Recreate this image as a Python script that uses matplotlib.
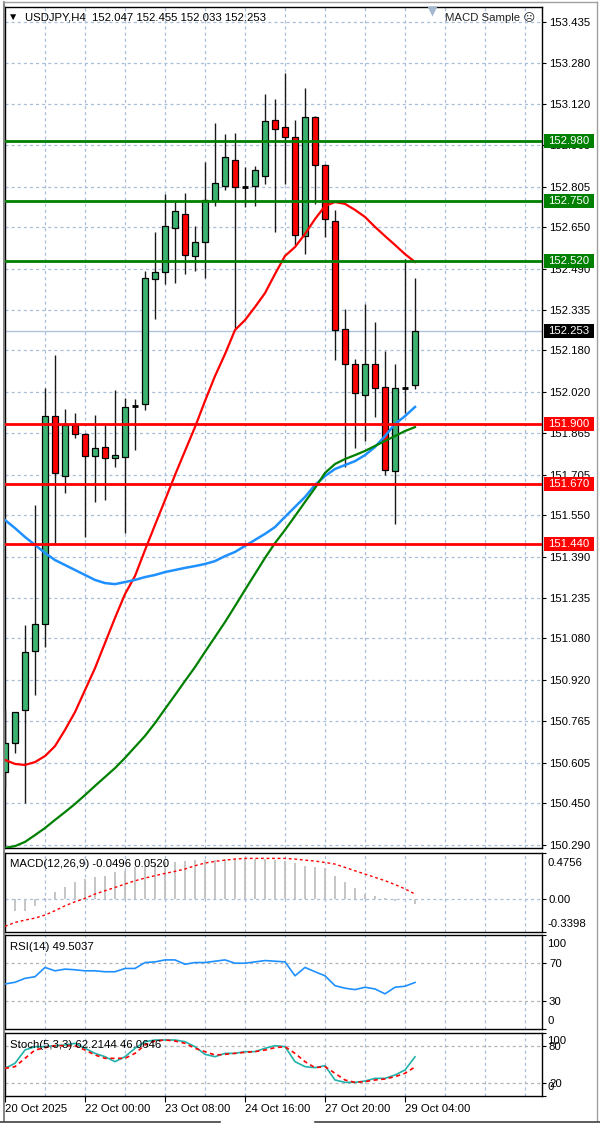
import matplotlib
matplotlib.use("Agg")
import matplotlib.pyplot as plt
import matplotlib.transforms as mtransforms
from matplotlib.patches import Rectangle
from matplotlib.lines import Line2D
import numpy as np

plt.rcParams['font.family'] = ['Liberation Sans', 'DejaVu Sans']
plt.rcParams['lines.scale_dashes'] = False

# ---------------- data ----------------
symbol = "USDJPY,H4"
opens = [150.569, 150.680, 150.806, 151.032, 151.135, 151.930, 151.700, 151.895, 151.861, 151.777,
         151.811, 151.769, 151.773, 151.966, 151.975, 152.453, 152.480, 152.648, 152.701, 152.541,
         152.594, 152.751, 152.808, 152.908, 152.804, 152.808, 152.847, 153.061, 153.034, 152.996,
         152.617, 153.072, 152.889, 152.675, 152.262, 152.128, 152.010, 152.128, 152.040, 151.719,
         152.038, 152.047]
highs = [150.806, 150.800, 151.131, 151.589, 152.036, 152.163, 151.956, 151.941, 151.865, 151.933,
         151.895, 152.029, 151.998, 151.994, 152.484, 152.633, 152.778, 152.747, 152.782, 152.655,
         152.900, 153.049, 153.007, 153.011, 152.881, 152.885, 153.160, 153.141, 153.240, 153.061,
         153.183, 153.075, 152.893, 152.717, 152.338, 152.147, 152.357, 152.289, 152.178, 152.128,
         152.529, 152.455]
lows = [150.508, 150.642, 150.451, 150.863, 151.047, 151.444, 151.635, 151.845, 151.467, 151.601,
        151.609, 151.735, 151.482, 151.800, 151.952, 152.300, 152.434, 152.438, 152.472, 152.484,
        152.457, 152.732, 152.793, 152.266, 152.728, 152.732, 152.816, 152.633, 152.816, 152.583,
        152.549, 152.740, 152.613, 152.143, 151.735, 151.807, 151.834, 151.926, 151.704, 151.517,
        151.941, 152.033]
closes = [150.680, 150.799, 151.028, 151.135, 151.930, 151.712, 151.895, 151.861, 151.777, 151.807,
          151.769, 151.780, 151.964, 151.968, 152.457, 152.480, 152.655, 152.713, 152.545, 152.594,
          152.755, 152.820, 152.919, 152.804, 152.805, 152.869, 153.057, 153.026, 152.996, 152.621,
          153.072, 152.889, 152.682, 152.258, 152.128, 152.017, 152.128, 152.036, 151.723, 152.036,
          152.036, 152.253]

ma_red = [150.615, 150.600, 150.596, 150.607, 150.630, 150.668, 150.730, 150.798, 150.882, 150.966,
          151.062, 151.158, 151.249, 151.318, 151.417, 151.513, 151.608, 151.704, 151.796, 151.887,
          151.987, 152.082, 152.166, 152.258, 152.296, 152.346, 152.399, 152.472, 152.541, 152.575,
          152.625, 152.682, 152.732, 152.747, 152.740, 152.717, 152.690, 152.652, 152.617, 152.583,
          152.548, 152.518]
ma_blue = [151.532, 151.501, 151.467, 151.437, 151.406, 151.379, 151.360, 151.341, 151.322, 151.303,
           151.291, 151.287, 151.295, 151.303, 151.314, 151.322, 151.333, 151.341, 151.349, 151.356,
           151.364, 151.375, 151.394, 151.410, 151.433, 151.456, 151.479, 151.505, 151.544, 151.582,
           151.620, 151.666, 151.700, 151.727, 151.742, 151.757, 151.780, 151.811, 151.853, 151.899,
           151.929, 151.964]
ma_green = [150.279, 150.286, 150.302, 150.328, 150.355, 150.386, 150.416, 150.447, 150.481, 150.516,
            150.550, 150.584, 150.623, 150.665, 150.707, 150.756, 150.810, 150.863, 150.917, 150.970,
            151.028, 151.085, 151.142, 151.203, 151.265, 151.326, 151.387, 151.444, 151.494, 151.547,
            151.601, 151.654, 151.712, 151.746, 151.765, 151.780, 151.796, 151.815, 151.834, 151.853,
            151.872, 151.887]

resistance_levels = [152.980, 152.750, 152.520]
support_levels = [151.900, 151.670, 151.440]
last_price = 152.253

price_ticks = [153.435, 153.280, 153.120, 152.965, 152.805, 152.650, 152.490, 152.335, 152.180,
               152.020, 151.865, 151.705, 151.550, 151.390, 151.235, 151.080, 150.920, 150.765,
               150.605, 150.450, 150.290]

macd_hist = [-0.18, -0.12, -0.12, -0.07, 0.01, 0.069, 0.12, 0.18, 0.206, 0.224,
             0.234, 0.275, 0.292, 0.327, 0.344, 0.361, 0.378, 0.385, 0.396, 0.402,
             0.406, 0.406, 0.413, 0.413, 0.413, 0.413, 0.413, 0.406, 0.396, 0.372,
             0.344, 0.327, 0.316, 0.234, 0.172, 0.110, 0.052, 0.028, 0.007, -0.017,
             0.0, -0.0496]
macd_signal = [-0.282, -0.241, -0.217, -0.196, -0.165, -0.120, -0.069, -0.028, 0.007, 0.052,
               0.086, 0.120, 0.155, 0.189, 0.217, 0.241, 0.265, 0.286, 0.310, 0.344,
               0.372, 0.389, 0.402, 0.413, 0.420, 0.420, 0.420, 0.420, 0.420, 0.413,
               0.402, 0.392, 0.378, 0.361, 0.327, 0.292, 0.258, 0.224, 0.190, 0.150,
               0.105, 0.052]
macd_range = (-0.3398, 0.4756)

rsi = [47.9, 49.7, 53.9, 55.6, 65.5, 61.9, 63.7, 63.0, 61.9, 61.9,
       60.9, 60.9, 64.4, 64.4, 70.7, 71.4, 73.5, 73.5, 68.9, 70.7,
       70.7, 72.1, 73.5, 70.0, 70.0, 71.4, 72.8, 72.1, 71.4, 56.6,
       65.5, 60.9, 56.6, 46.1, 43.4, 41.9, 44.4, 42.6, 37.4, 44.4,
       45.5, 49.5]
stoch_k = [43.9, 51.9, 73.0, 78.3, 78.3, 79.9, 81.0, 83.6, 75.7, 67.7,
           62.4, 54.5, 62.4, 75.7, 86.2, 88.9, 88.9, 88.9, 86.2, 78.3,
           66.1, 62.4, 67.7, 67.7, 70.4, 70.4, 75.7, 79.9, 78.3, 54.5,
           46.6, 45.0, 48.1, 25.4, 21.7, 21.7, 23.8, 28.0, 28.0, 33.3,
           41.3, 62.2]
stoch_d = [43.9, 46.6, 59.8, 73.0, 76.7, 79.9, 79.9, 79.9, 73.0, 65.1,
           59.8, 59.8, 59.8, 67.7, 81.0, 87.3, 88.9, 87.3, 83.6, 75.7,
           70.4, 65.1, 66.1, 67.7, 69.3, 70.4, 73.0, 76.7, 78.3, 67.7,
           54.5, 45.0, 46.6, 36.0, 25.4, 21.7, 22.8, 25.4, 27.0, 30.7,
           36.0, 46.1]

date_labels = ["20 Oct 2025", "22 Oct 00:00", "23 Oct 08:00", "24 Oct 16:00", "27 Oct 20:00", "29 Oct 04:00"]
date_every = 8

header = "USDJPY,H4  152.047 152.455 152.033 152.253"
macd_title = "MACD(12,26,9) -0.0496 0.0520"
rsi_title = "RSI(14) 49.5037"
stoch_title = "Stoch(5,3,3) 62.2144 46.0646"

# ---------------- layout ----------------
W, H = 600, 1125
FS = 8.2
GRID = '#a9bfd9'
DASH = (0, (2.2, 2.2))
fig = plt.figure(figsize=(W / 100, H / 100), dpi=100)
fig.patch.set_facecolor('white')


def add_ax(t, b, l=5, r=542):
    return fig.add_axes([l / W, 1 - b / H, (r - l) / W, (b - t) / H])


ax = add_ax(7, 848)
ax_macd = add_ax(853, 932)
ax_rsi = add_ax(935, 1029)
ax_st = add_ax(1033, 1096)
axes = [ax, ax_macd, ax_rsi, ax_st]

n = len(closes)
x = np.arange(n)
XMAX = 53.7

for a in axes:
    a.set_xlim(0, XMAX)
    a.set_facecolor('white')
    for s in a.spines.values():
        s.set_color('black')
        s.set_linewidth(1)
    for gx in range(4, 54, 4):
        a.axvline(gx, color=GRID, lw=0.9, ls=DASH, zorder=0)
    a.tick_params(axis='x', bottom=False, labelbottom=False)
    a.yaxis.tick_right()
    a.tick_params(axis='y', direction='out', length=3, width=0.8, labelsize=FS, pad=2, colors='black')

# ---------------- main chart ----------------
ymin, ymax = 150.2787, 153.4923
ax.set_ylim(ymin, ymax)
ax.set_yticks(price_ticks)
ax.set_yticklabels([f"{p:.3f}" for p in price_ticks])
for p in price_ticks:
    ax.axhline(p, color=GRID, lw=0.9, ls=DASH, zorder=0)

ax.axhline(last_price, color='#b0c4de', lw=1, zorder=1)

for i in range(n):
    o, h, l, c = opens[i], highs[i], lows[i], closes[i]
    ax.vlines(i, l, h, color='#1a1a1a', lw=1, zorder=3)
    if abs(c - o) < 0.004:
        ax.hlines((o + c) / 2, i - 0.32, i + 0.32, color='black', lw=2, zorder=4)
    else:
        col = '#3cb371' if c > o else '#ff0000'
        ax.bar(i, abs(c - o), bottom=min(o, c), width=0.6, color=col,
               edgecolor='black', lw=0.9, zorder=4)

ax.plot(x, ma_red, color='#ff0000', lw=1.6, zorder=5)
ax.plot(x, ma_blue, color='#1e90ff', lw=1.8, zorder=5)
ax.plot(x, ma_green, color='#008000', lw=1.6, zorder=5)

for lv in resistance_levels:
    ax.axhline(lv, color='#008000', lw=2, zorder=6)
for lv in support_levels:
    ax.axhline(lv, color='#ff0000', lw=2, zorder=6)

trans = mtransforms.blended_transform_factory(ax.transAxes, ax.transData)
ax_w_px = 537.0
ax_h_px = 841.0


def price_box(val, fc):
    dh = 14 * (ymax - ymin) / ax_h_px
    x0 = 1 + 1.5 / ax_w_px
    wf = 50 / ax_w_px
    ax.add_patch(Rectangle((x0, val - dh / 2), wf, dh, transform=trans, fc=fc, ec='none',
                           clip_on=False, zorder=10))
    ax.text(x0 + wf / 2, val, f"{val:.3f}", transform=trans, ha='center', va='center',
            color='white', fontsize=FS, zorder=11, clip_on=False)


for lv in resistance_levels:
    price_box(lv, '#008000')
for lv in support_levels:
    price_box(lv, '#ff0000')
price_box(last_price, '#000000')

# header texts
fig.text(13 / W, 1 - 17 / H, '▼', fontsize=7.5, ha='center', va='center', color='black')
fig.text(25 / W, 1 - 17 / H, header, fontsize=FS, ha='left', va='center', color='black')
fig.text(535 / W, 1 - 18 / H, 'MACD Sample ☹', fontsize=FS, ha='right', va='center', color='#222222')
ax.plot([(431.5 - 5) / ax_w_px], [1 - 3.5 / ax_h_px], marker='v', ms=7, color='#a3b8d0',
        transform=ax.transAxes, clip_on=False, zorder=12, mec='none')


def edge_label(a, text, top, off):
    if top:
        a.annotate(text, xy=(1, 1), xycoords='axes fraction', xytext=(5, -off),
                   textcoords='offset pixels', ha='left', va='center', fontsize=FS)
    else:
        a.annotate(text, xy=(1, 0), xycoords='axes fraction', xytext=(5, off),
                   textcoords='offset pixels', ha='left', va='center', fontsize=FS)


# ---------------- MACD ----------------
ax_macd.set_ylim(*macd_range)
ax_macd.vlines(x, 0, macd_hist, color='#c0c0c0', lw=1.3, zorder=2)
ax_macd.plot(x, macd_signal, color='#ff0000', lw=1, ls=(0, (2, 2)), zorder=3)
ax_macd.axhline(0, color=GRID, lw=0.9, ls=DASH, zorder=1)
ax_macd.set_yticks([macd_range[1], 0, macd_range[0]])
ax_macd.set_yticklabels(['', '0.00', ''])
edge_label(ax_macd, f"{macd_range[1]:.4f}", True, 10)
edge_label(ax_macd, f"{macd_range[0]:.4f}", False, 8)
fig.text(10 / W, 1 - 864 / H, macd_title, fontsize=FS, ha='left', va='center')

# ---------------- RSI ----------------
ax_rsi.set_ylim(0, 100)
ax_rsi.plot(x, rsi, color='#1e90ff', lw=1.2, zorder=3)
for lv in (70, 30):
    ax_rsi.axhline(lv, color='#b4b4b4', lw=0.9, ls=DASH, zorder=1)
ax_rsi.set_yticks([100, 70, 30, 0])
ax_rsi.set_yticklabels(['', '70', '30', ''])
edge_label(ax_rsi, '100', True, 9)
edge_label(ax_rsi, '0', False, 8)
fig.text(10 / W, 1 - 947 / H, rsi_title, fontsize=FS, ha='left', va='center')

# ---------------- Stochastic ----------------
ax_st.set_ylim(0, 100)
ax_st.plot(x, stoch_k, color='#20b2aa', lw=1.2, zorder=3)
ax_st.plot(x, stoch_d, color='#ff0000', lw=1.2, ls=(0, (3, 2.5)), zorder=3)
for lv in (80, 20):
    ax_st.axhline(lv, color='#b4b4b4', lw=0.9, ls=DASH, zorder=1)
ax_st.set_yticks([100, 80, 20, 0])
ax_st.set_yticklabels(['', '80', '20', ''])
edge_label(ax_st, '100', True, 8)
edge_label(ax_st, '0', False, 9)
fig.text(10 / W, 1 - 1045 / H, stoch_title, fontsize=FS, ha='left', va='center', zorder=10)

ax_st.set_xticks([k * date_every for k in range(len(date_labels))])
ax_st.set_xticklabels(date_labels, ha='left')
ax_st.tick_params(axis='x', bottom=True, labelbottom=True, length=4, width=0.8,
                  direction='out', pad=2, labelsize=FS)

# window frame lines
fig.add_artist(Line2D([3.5 / W, 3.5 / W], [1 - 2 / H, 1 - 1121 / H], color='#707070', lw=1.2))
fig.add_artist(Line2D([3 / W, 597 / W], [1 - 2 / H, 1 - 2 / H], color='#a0a0a0', lw=1))
fig.add_artist(Line2D([597 / W, 597 / W], [1 - 2 / H, 1 - 1121 / H], color='#a0a0a0', lw=1))
fig.add_artist(Line2D([0, 220 / W], [1 - 1122 / H, 1 - 1122 / H], color='#404040', lw=1.2))
fig.add_artist(Line2D([315 / W, 1], [1 - 1122 / H, 1 - 1122 / H], color='#404040', lw=1.2))

fig.savefig('out.png', dpi=100, facecolor='white')
